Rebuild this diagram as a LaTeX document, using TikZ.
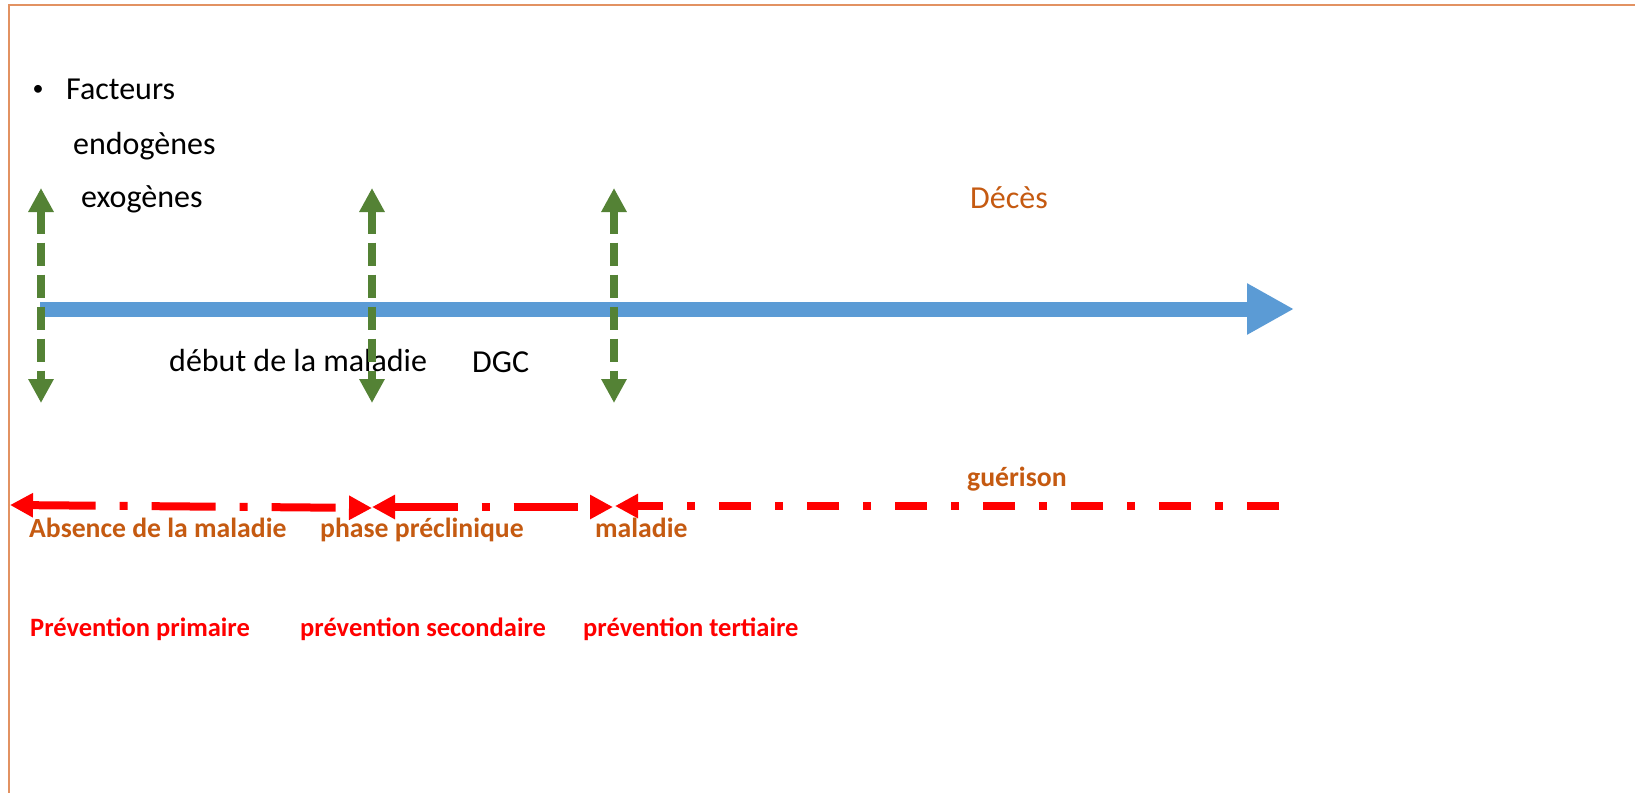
\documentclass[tikz,border=0pt]{standalone}
\usepackage{fontspec}
\setmainfont{Carlito}
\usetikzlibrary{arrows.meta}
\definecolor{cgreen}{RGB}{84,130,53}
\definecolor{cblue}{RGB}{91,155,213}
\definecolor{corange}{RGB}{197,90,17}
\definecolor{cred}{RGB}{255,0,0}
\definecolor{cframe}{RGB}{226,146,98}
\begin{document}
\begin{tikzpicture}[x=1pt,y=-1pt,
  regtext/.style={anchor=base west,inner sep=0pt,font=\fontsize{32}{38}\selectfont},
  boldtext/.style={anchor=base west,inner sep=0pt,font=\fontsize{27.7}{33}\selectfont\bfseries},
  redtext/.style={anchor=base west,inner sep=0pt,text=cred,font=\fontsize{26.5}{32}\selectfont\bfseries},
  greenarrow/.style={draw=cgreen,line width=7.5pt,dash pattern=on 23pt off 9pt,
    {Triangle[length=24pt,width=24pt]}-{Triangle[length=24pt,width=24pt]}},
  bluearrow/.style={draw=cblue,line width=15pt,-{Triangle[length=47pt,width=48pt]}},
  redlong/.style={draw=cred,line width=8pt,dash pattern=on 64pt off 24pt on 8pt off 24pt,
    {Triangle[length=23pt,width=23pt]}-{Triangle[length=23pt,width=23pt]}},
  redshort/.style={draw=cred,line width=8pt,dash pattern=on 32pt off 24pt on 8pt off 24pt,
    -{Triangle[length=23pt,width=23pt]}},
  frameline/.style={draw=cframe,line width=1.5pt}
]
\useasboundingbox (0,0) rectangle (1635,793);
\fill[white] (0,0) rectangle (1635,793);
% frame (partially visible)
\draw[frameline] (1635,5) -- (9,5) -- (9,793);

% texts top left
\node[anchor=base,inner sep=0pt,font=\fontsize{22}{26}\selectfont] (bullet) at (38,95) {•};
\node[regtext] (facteurs) at (66,99) {Facteurs};
\node[regtext] (endo) at (73,154) {endogènes};
\node[regtext] (exo) at (81,207) {exogènes};
\node[regtext,text=corange] (deces) at (970,208) {Décès};
\node[regtext] (debut) at (169,371) {début de la maladie};
\node[regtext] (dgc) at (472,372) {DGC};

% blue time axis
\coordinate (bstart) at (40,309);
\coordinate (bend) at (1294,309);
\draw[bluearrow] (bstart) -- (bend);

% green double arrows
\coordinate (g1t) at (41,188);  \coordinate (g1b) at (41,403);
\coordinate (g2t) at (372,188); \coordinate (g2b) at (372,403);
\coordinate (g3t) at (614,188); \coordinate (g3b) at (614,403);
\draw[greenarrow] (g1t) -- (g1b);
\draw[greenarrow] (g2t) -- (g2b);
\draw[greenarrow] (g3t) -- (g3b);

% red dash-dot arrows
\coordinate (r1a) at (10,505);
\coordinate (r1b) at (372,508);
\coordinate (r2a) at (372,507);
\coordinate (r2b) at (613,507);
\coordinate (r3a) at (1279,506);
\coordinate (r3b) at (615,506);
\draw[redlong] (r1a) -- (r1b);
\draw[redlong] (r2a) -- (r2b);
\draw[redshort] (r3a) -- (r3b);

% orange bold labels
\node[boldtext,text=corange] (gue) at (967,486) {guérison};
\node[boldtext,text=corange] (abs) at (29,537) {Absence de la maladie};
\node[boldtext,text=corange] (pre) at (320,537) {phase préclinique};
\node[boldtext,text=corange] (mal) at (595,537) {maladie};

% red bold labels
\node[redtext] (p1) at (30,636) {Prévention primaire};
\node[redtext] (p2) at (300,636) {prévention secondaire};
\node[redtext] (p3) at (583,636) {prévention tertiaire};
\end{tikzpicture}
\end{document}
